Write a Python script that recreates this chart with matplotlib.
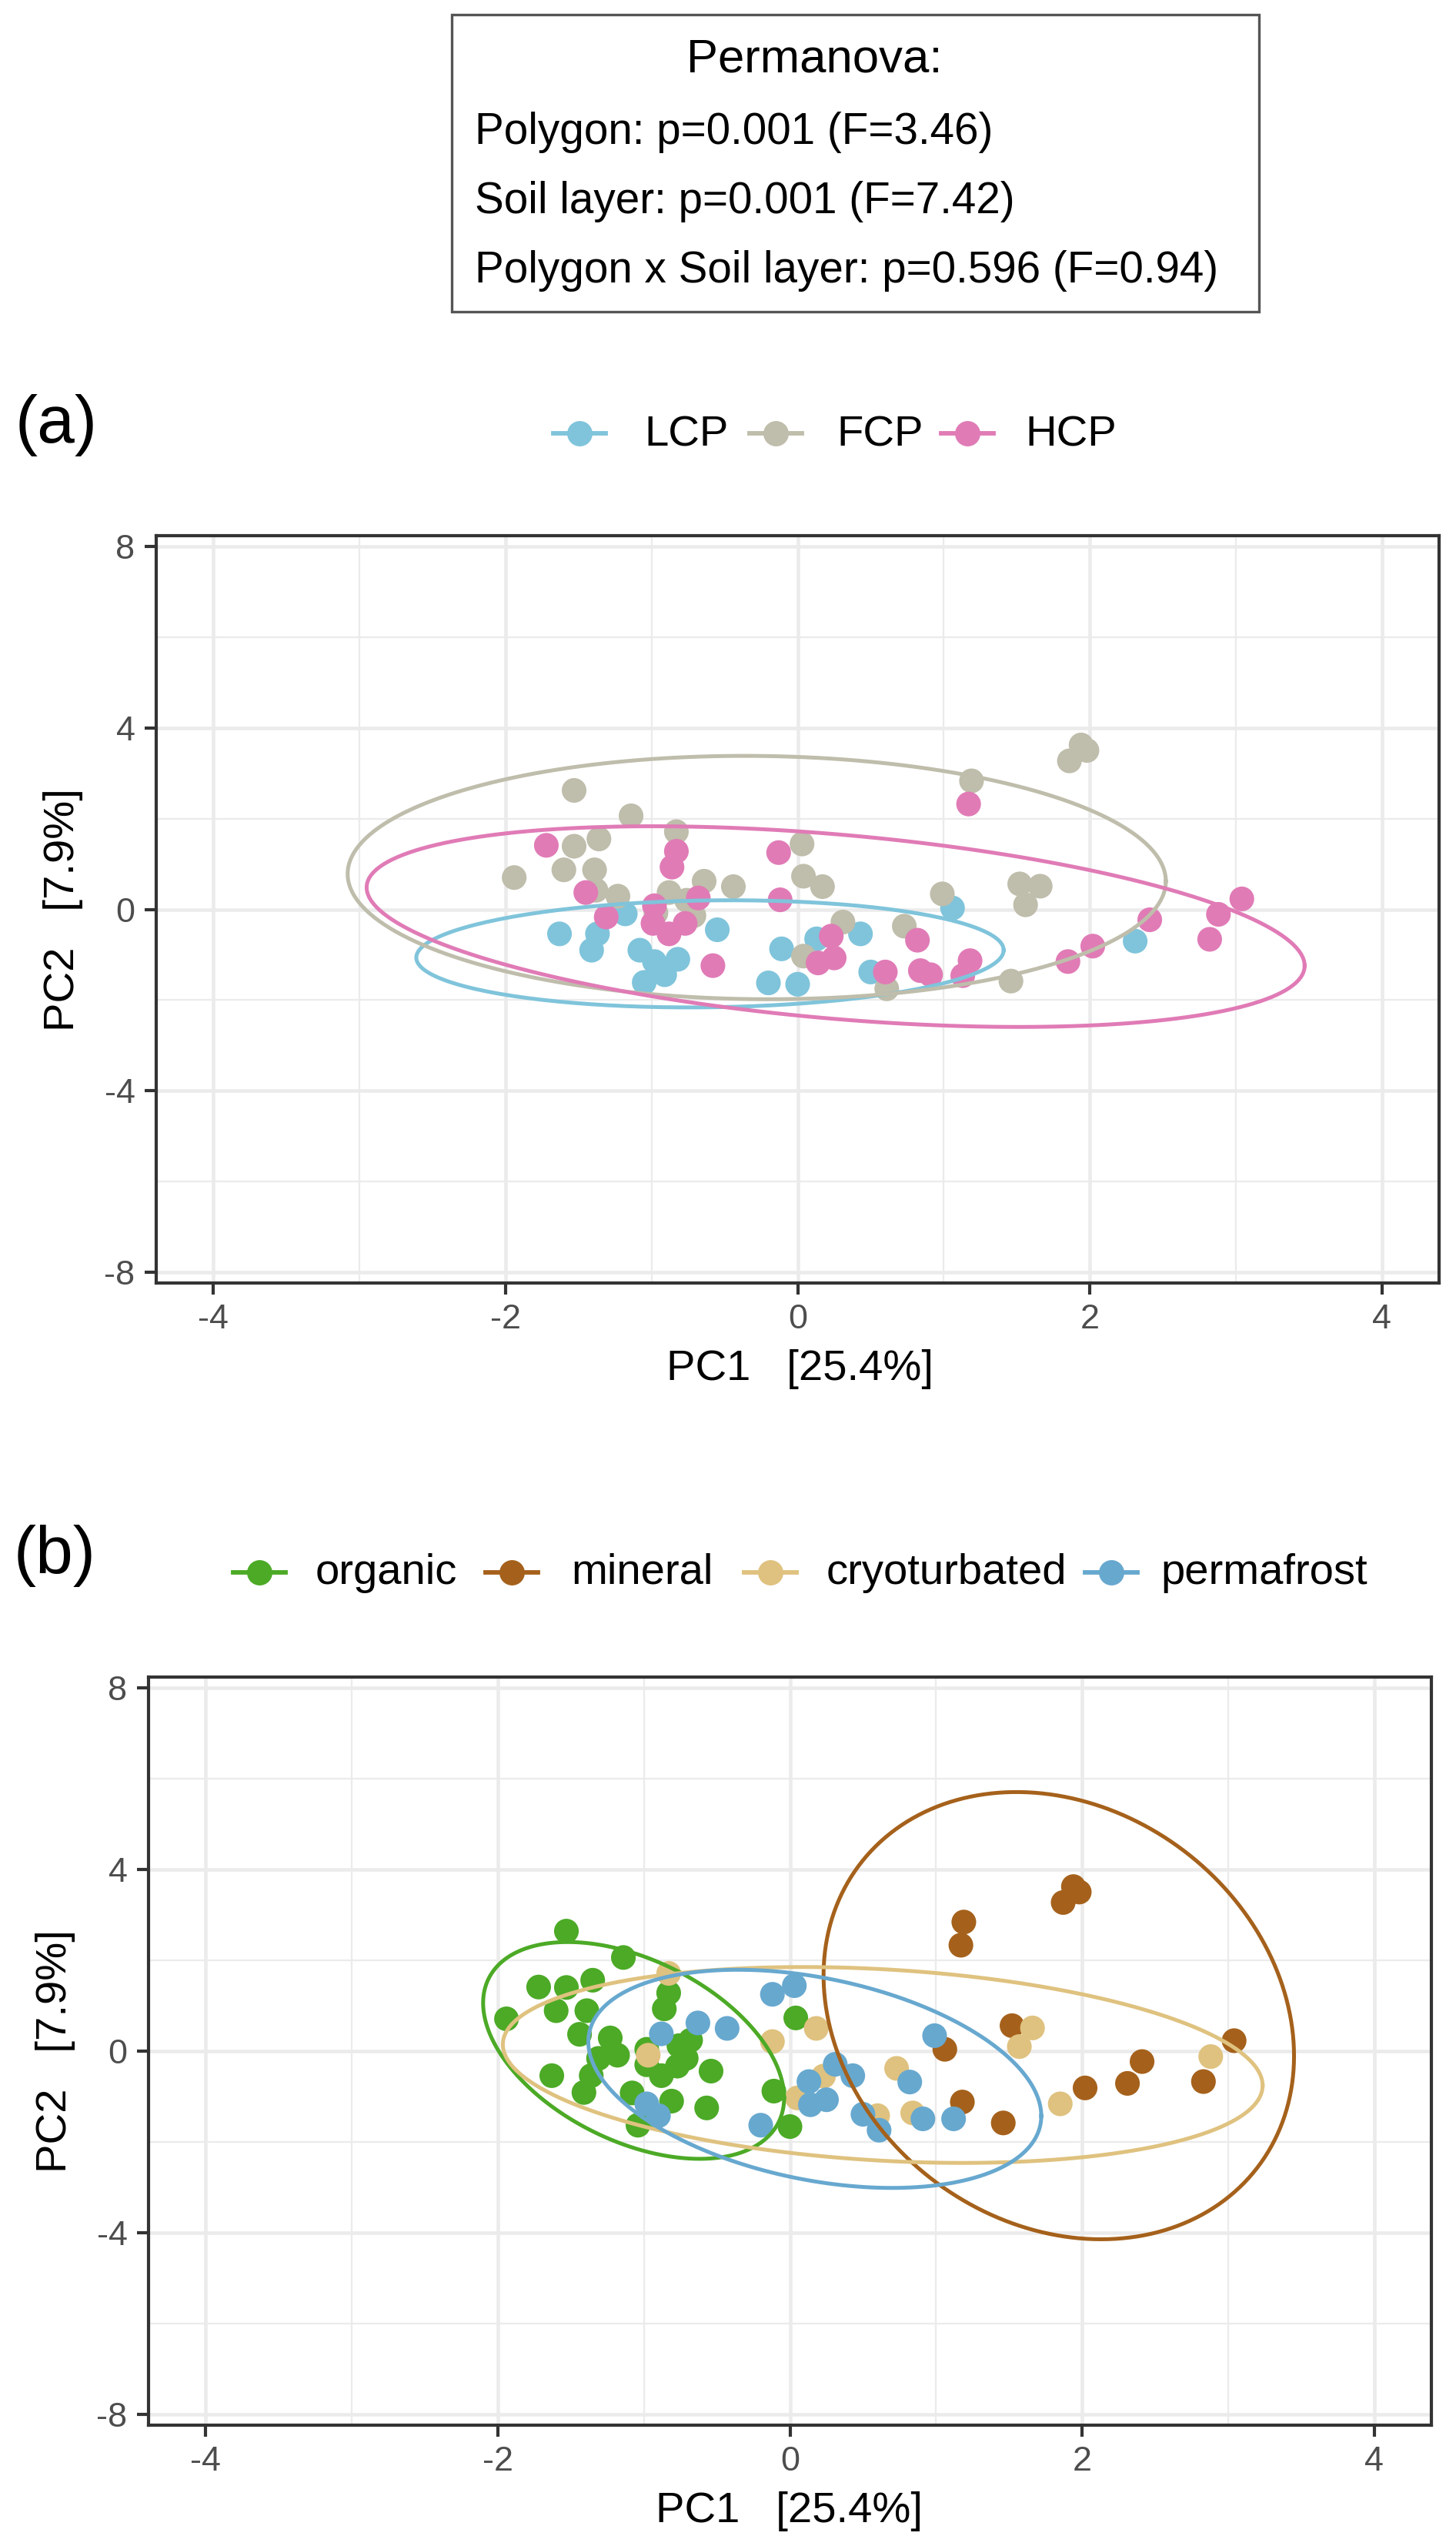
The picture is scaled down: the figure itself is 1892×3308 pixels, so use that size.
import numpy as np
import matplotlib
matplotlib.use('Agg')
import matplotlib.pyplot as plt
from matplotlib.lines import Line2D
from matplotlib.patches import Rectangle

plt.rcParams['font.family'] = ['Liberation Sans', 'DejaVu Sans']
plt.rcParams['axes.unicode_minus'] = False

# ---- panel (a): polygon type ----
polygons = ['LCP', 'FCP', 'HCP']
polygon_colors = ['#7FC4DB', '#BFBDAB', '#E07BB6']

lcp_x = [-1.63, -1.37, -1.41, -1.18, -1.08, -0.98, -0.82, -0.91, -1.05, -0.55,
         -0.11, -0.20, 0.00, 1.06, 0.13, 0.43, 0.50, 2.31]
lcp_y = [-0.54, -0.54, -0.90, -0.10, -0.90, -1.15, -1.10, -1.44, -1.61, -0.45,
         -0.87, -1.62, -1.65, 0.03, -0.65, -0.54, -1.38, -0.70]

fcp_x = [-1.53, -1.14, -0.83, -1.36, -1.53, -1.94, -1.60, -1.39, -1.38, -1.23,
         -0.88, -0.64, -0.44, -0.76, -0.97, -0.71, 0.03, 0.04, 0.04, 1.94,
         1.98, 1.86, 1.19, 0.17, 0.99, 1.52, 1.66, 1.56, 0.31, 0.73, 0.61, 1.46]
fcp_y = [2.62, 2.06, 1.71, 1.55, 1.39, 0.70, 0.87, 0.87, 0.42, 0.29,
         0.37, 0.62, 0.50, 0.20, -0.08, -0.14, 1.44, 0.73, -1.03, 3.62,
         3.50, 3.27, 2.83, 0.50, 0.34, 0.56, 0.51, 0.10, -0.28, -0.37, -1.75, -1.58]

hcp_x = [-1.72, -0.83, -0.86, -1.45, -1.31, -0.68, -0.98, -0.99, -0.88, -0.77,
         -0.13, -0.12, -0.58, 1.17, 0.23, 0.25, 0.14, 0.60, 0.82, 0.84,
         0.91, 1.18, 1.13, 1.85, 2.02, 2.41, 2.88, 3.04, 2.82]
hcp_y = [1.41, 1.28, 0.93, 0.37, -0.17, 0.25, 0.08, -0.31, -0.54, -0.31,
         1.25, 0.21, -1.24, 2.32, -0.59, -1.07, -1.18, -1.38, -0.68, -1.35,
         -1.44, -1.13, -1.46, -1.15, -0.81, -0.23, -0.11, 0.23, -0.66]

# ellipse: centre, half extent in x and y, correlation
polygon_ell_cx = [-0.60, -0.28, 0.26]
polygon_ell_cy = [-0.98, 0.70, -0.38]
polygon_ell_sx = [2.01, 2.80, 3.21]
polygon_ell_sy = [1.18, 2.68, 2.21]
polygon_ell_rho = [0.07, -0.03, -0.39]

# ---- panel (b): soil layer ----
layers = ['organic', 'mineral', 'cryoturbated', 'permafrost']
layer_colors = ['#4CAA26', '#A5611B', '#DFC27F', '#67A8CF']

org_x = [-1.53, -1.14, -1.72, -1.53, -1.35, -0.83, -0.86, -1.94, -1.60, -1.39,
         -1.44, -1.23, -1.18, -1.31, -0.98, -0.98, -0.88, -0.76, -0.68, -0.71,
         -0.77, -0.54, -1.63, -1.36, -1.41, -1.08, -0.81, -0.57, -1.04, -0.95,
         0.04, -0.11, 0.00]
org_y = [2.64, 2.06, 1.41, 1.40, 1.56, 1.28, 0.93, 0.71, 0.89, 0.89,
         0.37, 0.29, -0.09, -0.16, 0.04, -0.30, -0.54, 0.12, 0.24, -0.16,
         -0.33, -0.44, -0.54, -0.54, -0.91, -0.92, -1.10, -1.25, -1.63, -1.43,
         0.73, -0.88, -1.66]

min_x = [1.94, 1.98, 1.87, 1.19, 1.17, 1.52, 1.06, 1.18, 1.46, 2.02, 2.31, 2.41, 2.83, 3.04]
min_y = [3.62, 3.50, 3.27, 2.84, 2.33, 0.56, 0.04, -1.12, -1.58, -0.81, -0.71, -0.23, -0.67, 0.23]

cry_x = [-0.83, -0.97, -0.12, 0.18, 0.23, 0.05, 1.66, 1.57, 0.73, 0.84, 0.60, 1.85, 2.88]
cry_y = [1.71, -0.09, 0.21, 0.50, -0.55, -1.03, 0.51, 0.10, -0.38, -1.36, -1.42, -1.16, -0.12]

per_x = [-0.88, -0.63, -0.43, -0.12, 0.03, -0.98, -0.90, -0.20, 0.31, 0.13,
         0.43, 0.14, 0.25, 0.50, 0.61, 0.99, 0.82, 0.91, 1.12]
per_y = [0.38, 0.62, 0.50, 1.25, 1.44, -1.16, -1.42, -1.63, -0.29, -0.67,
         -0.54, -1.18, -1.07, -1.39, -1.74, 0.34, -0.68, -1.49, -1.49]

layer_ell_cx = [-1.07, 1.84, 0.635, 0.17]
layer_ell_cy = [0.015, 0.78, -0.305, -0.61]
layer_ell_sx = [1.03, 1.61, 2.60, 1.55]
layer_ell_sy = [2.385, 4.92, 2.155, 2.40]
layer_ell_rho = [-0.438, -0.18, -0.21, -0.34]

permanova_lines = ['Polygon: p=0.001 (F=3.46)',
                   'Soil layer: p=0.001 (F=7.42)',
                   'Polygon x Soil layer: p=0.596 (F=0.94)']

W, H = 1892, 3308
DPI = 300


def fx(px):
    return px / W


def fy(py):
    return 1 - py / H


def ellipse_xy(cx, cy, sx, sy, rho, n=200):
    t = np.linspace(0, 2 * np.pi, n)
    cov = np.array([[sx * sx, rho * sx * sy], [rho * sx * sy, sy * sy]])
    L = np.linalg.cholesky(cov)
    pts = L @ np.vstack([np.cos(t), np.sin(t)])
    return cx + pts[0], cy + pts[1]


def setup_axes(ax):
    ax.set_xlim(-4.39, 4.39)
    ax.set_ylim(-8.23, 8.23)
    ax.set_xticks([-4, -2, 0, 2, 4])
    ax.set_xticks([-3, -1, 1, 3], minor=True)
    ax.set_yticks([-8, -4, 0, 4, 8])
    ax.set_yticks([-6, -2, 2, 6], minor=True)
    ax.grid(which='major', color='#EBEBEB', lw=1.1)
    ax.grid(which='minor', color='#EBEBEB', lw=0.55)
    ax.set_axisbelow(True)
    ax.tick_params(which='major', length=3.6, width=1.0, color='#333333',
                   labelsize=10.8, labelcolor='#4D4D4D', pad=3)
    ax.tick_params(which='minor', length=0)
    for s in ax.spines.values():
        s.set_color('#333333')
        s.set_linewidth(1.0)


def draw_panel(ax, xs, ys, colors, ecx, ecy, esx, esy, erho):
    for x, y, c in zip(xs, ys, colors):
        ax.scatter(x, y, s=7.7 ** 2, color=c, edgecolors='none', zorder=2)
    for i, c in enumerate(colors):
        ex, ey = ellipse_xy(ecx[i], ecy[i], esx[i], esy[i], erho[i])
        ax.plot(ex, ey, color=c, lw=1.2, zorder=3)


def draw_legend(fig, names, colors, marker_px, text_px, y_marker, y_base):
    for n, c, m, t in zip(names, colors, marker_px, text_px):
        fig.add_artist(Line2D([fx(m - 34), fx(m + 34)], [fy(y_marker)] * 2,
                              color=c, lw=1.4, transform=fig.transFigure))
        fig.add_artist(Line2D([fx(m)], [fy(y_marker)], marker='o', ms=7.9,
                              color=c, mec='none', transform=fig.transFigure))
        fig.text(fx(t), fy(y_base), n, fontsize=13.5, ha='left', va='baseline')


fig = plt.figure(figsize=(W / DPI, H / DPI), dpi=DPI)

# permanova box
fig.add_artist(Rectangle((fx(587), fy(405)), fx(1636) - fx(587), (405 - 19) / H,
                         transform=fig.transFigure, fill=False, ec='#555555', lw=0.8))
fig.text(fx(1058), fy(93), 'Permanova:', fontsize=14.8, ha='center', va='baseline')
for line, base in zip(permanova_lines, [187, 277, 367]):
    fig.text(fx(617), fy(base), line, fontsize=13.6, ha='left', va='baseline')

# (a)
ax1 = fig.add_axes([fx(203), fy(1667), 1667 / W, 971 / H])
setup_axes(ax1)
draw_panel(ax1, [lcp_x, fcp_x, hcp_x], [lcp_y, fcp_y, hcp_y], polygon_colors,
           polygon_ell_cx, polygon_ell_cy, polygon_ell_sx, polygon_ell_sy, polygon_ell_rho)
fig.text(fx(20), fy(575), '(a)', fontsize=21, ha='left', va='baseline')
draw_legend(fig, polygons, polygon_colors, [753, 1008, 1257], [837, 1087, 1332], 563, 580)
fig.text(fx(1039), fy(1793), 'PC1   [25.4%]', fontsize=13.5, ha='center', va='baseline')
fig.text(fx(82), fy(1182), 'PC2   [7.9%]', fontsize=13.5, rotation=90, ha='center', va='center')

# (b)
ax2 = fig.add_axes([fx(193), fy(3151), 1667 / W, 972 / H])
setup_axes(ax2)
draw_panel(ax2, [org_x, min_x, cry_x, per_x], [org_y, min_y, cry_y, per_y], layer_colors,
           layer_ell_cx, layer_ell_cy, layer_ell_sx, layer_ell_sy, layer_ell_rho)
fig.text(fx(18), fy(2044), '(b)', fontsize=21, ha='left', va='baseline')
draw_legend(fig, layers, layer_colors, [337, 665, 1001, 1444], [410, 742, 1074, 1508], 2043, 2058)
fig.text(fx(1025), fy(3277), 'PC1   [25.4%]', fontsize=13.5, ha='center', va='baseline')
fig.text(fx(72), fy(2665), 'PC2   [7.9%]', fontsize=13.5, rotation=90, ha='center', va='center')

fig.savefig('out.png', dpi=DPI)
